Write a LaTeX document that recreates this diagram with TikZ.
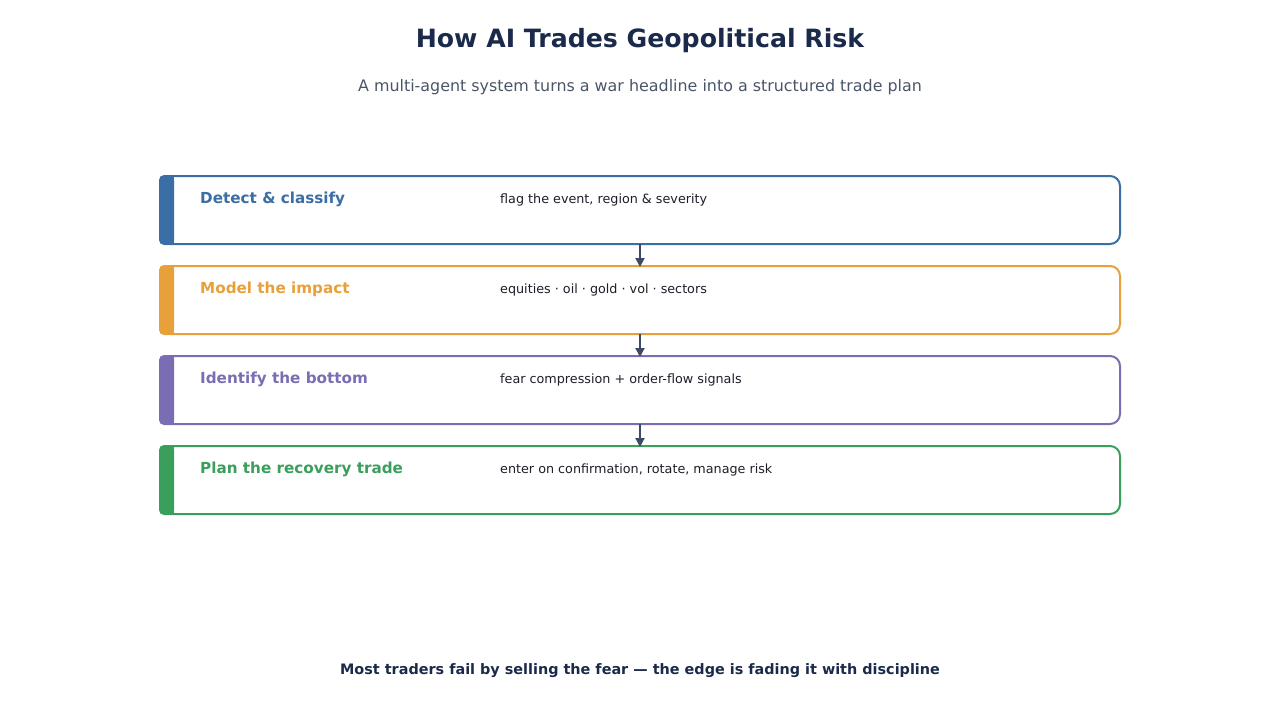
\documentclass[tikz,border=0pt]{standalone}
\usepackage{fontspec}
\setmainfont{DejaVu Sans}
\usetikzlibrary{arrows.meta}
\definecolor{cblue}{HTML}{3A6EA5}
\definecolor{corange}{HTML}{E8A03A}
\definecolor{cpurple}{HTML}{7B6DB3}
\definecolor{cgreen}{HTML}{3A9E5C}
\definecolor{ctitle}{HTML}{1B2A4A}
\definecolor{csub}{HTML}{4A5568}
\definecolor{cdesc}{HTML}{1E1E2A}
\definecolor{carrow}{HTML}{3D4A63}
\tikzset{
  stagebox/.style={draw=#1, line width=2pt, rounded corners=10pt, rectangle,
    minimum width=960pt, minimum height=68pt, inner sep=0pt, outer sep=0pt, fill=white},
  stagetitle/.style={anchor=west, text=#1, font=\bfseries\fontsize{15.2}{18}\selectfont, inner sep=0pt},
  stagedesc/.style={anchor=west, text=cdesc, font=\fontsize{12.75}{16}\selectfont, inner sep=0pt},
  flow/.style={draw=carrow, line width=2pt, -{Triangle[length=9pt,width=9pt]}}
}
\newcommand{\accentbar}[2]{%
  \fill[#2, rounded corners=5pt] ([xshift=-1pt,yshift=1pt]#1.north west) rectangle ([xshift=14pt,yshift=-1pt]#1.south west);
  \fill[#2] ([xshift=6pt,yshift=1pt]#1.north west) rectangle ([xshift=14pt,yshift=-1pt]#1.south west);}
\begin{document}
\begin{tikzpicture}[x=1pt,y=-1pt]
\useasboundingbox (0,0) rectangle (1280,720);
\node[text=ctitle, font=\bfseries\fontsize{25.2}{30}\selectfont] (title) at (640,41) {How AI Trades Geopolitical Risk};
\node[text=csub, font=\fontsize{15.9}{19}\selectfont] (sub) at (640,87) {A multi-agent system turns a war headline into a structured trade plan};

\node[stagebox=cblue] (b1) at (640,210) {};
\node[stagebox=corange] (b2) at (640,300) {};
\node[stagebox=cpurple] (b3) at (640,390) {};
\node[stagebox=cgreen] (b4) at (640,480) {};
\accentbar{b1}{cblue}
\accentbar{b2}{corange}
\accentbar{b3}{cpurple}
\accentbar{b4}{cgreen}

\node[stagetitle=cblue] (t1) at (200,199) {Detect \& classify};
\node[stagetitle=corange] (t2) at (200,289) {Model the impact};
\node[stagetitle=cpurple] (t3) at (200,379) {Identify the bottom};
\node[stagetitle=cgreen] (t4) at (200,469) {Plan the recovery trade};

\node[stagedesc] (d1) at (500,200) {flag the event, region \& severity};
\node[stagedesc] (d2) at (500,290) {equities · oil · gold · vol · sectors};
\node[stagedesc] (d3) at (500,380) {fear compression + order-flow signals};
\node[stagedesc] (d4) at (500,470) {enter on confirmation, rotate, manage risk};

\draw[flow] (b1.south) -- ([yshift=-1pt]b2.north);
\draw[flow] (b2.south) -- ([yshift=-1pt]b3.north);
\draw[flow] (b3.south) -- ([yshift=-1pt]b4.north);

\node[text=ctitle, font=\bfseries\fontsize{14.4}{17}\selectfont] (foot) at (640,671) {Most traders fail by selling the fear — the edge is fading it with discipline};
\end{tikzpicture}
\end{document}
